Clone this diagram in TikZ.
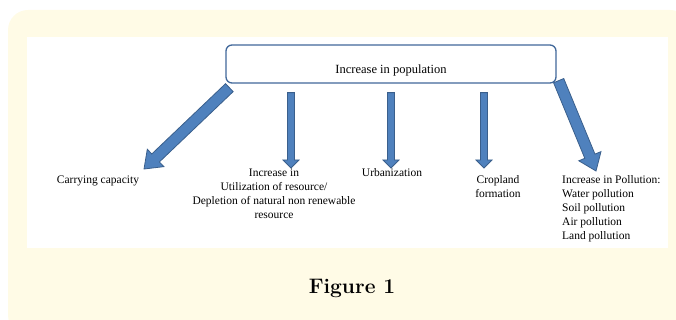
\documentclass[tikz,border=0pt]{standalone}
\usepackage{fontspec}
\usetikzlibrary{calc}
\newfontfamily\diagfont{Liberation Serif}

\definecolor{panel}{HTML}{FFFBE6}
\definecolor{arrowfill}{HTML}{4F81BD}
\definecolor{arrowline}{HTML}{3A5F8C}
\definecolor{boxline}{HTML}{41689A}

\def\shaftw{3.5pt}
\def\headw{8pt}
\def\headl{8pt}
\def\wideshaftw{5.5pt}
\def\wideheadw{12pt}
\def\wideheadl{16pt}

% block arrow: from, to, half shaft width, half head width, head length
\newcommand{\blockarrow}[5]{%
  \coordinate (neck) at ($(#2)!#5!(#1)$);
  \filldraw[block arrow] ($(#1)!#3!90:(#2)$) -- ($(neck)!#3!90:(#2)$)
    -- ($(neck)!#4!90:(#2)$) -- (#2) -- ($(neck)!#4!-90:(#2)$)
    -- ($(neck)!#3!-90:(#2)$) -- ($(#1)!#3!-90:(#2)$) -- cycle;
}

\begin{document}
\begin{tikzpicture}[x=1pt,y=-1pt]
    \tikzstyle{block arrow}=[fill=arrowfill,draw=arrowline,line width=0.8pt,line join=miter]
    \tikzstyle{annot}=[font=\diagfont\fontsize{11.5}{14}\selectfont,inner sep=0pt,align=center]
    \tikzstyle{top box}=[draw=boxline,line width=1.3pt,rounded corners=6pt,fill=white,
        minimum width=330pt,minimum height=38pt]

    \useasboundingbox (0,0) rectangle (676,320);

    % Draw the panel
    \fill[panel,rounded corners=20pt] (8,10) rectangle (690,335);
    \fill[white] (27,37) rectangle (668,248);

    % Draw the top box
    \node[top box] (pop) at (391,64) {};
    \node[annot,font=\diagfont\fontsize{12.5}{14}\selectfont] (pop-text) at ([yshift=-6pt]pop.center) {Increase in population};

    % Draw the effects
    \node[annot,anchor=north] (cc) at (98,176) {Carrying capacity};
    \node[annot,anchor=north] (util) at (274,169) {Increase in\\Utilization of resource/\\Depletion of natural non renewable\\resource};
    \node[annot,anchor=north] (urb) at (392,168) {Urbanization};
    \node[annot,anchor=north] (crop) at (498,175) {Cropland\\formation};
    \node[annot,anchor=north west,align=left] (poll) at (562,175) {Increase in Pollution:\\Water pollution\\Soil pollution\\Air pollution\\Land pollution};

    % Connect the top box with the effects below it
    \foreach \name / \x in {util/291,urb/391,crop/484} {
        \coordinate (\name-tip) at (\x,168);
        \coordinate (\name-top) at ([yshift=-9pt]pop.south -| \name-tip);
        \blockarrow{\name-top}{\name-tip}{\shaftw}{\headw}{\headl}
    }

    % The two slanted arrows
    \coordinate (cc-top) at ([shift={(4pt,-4pt)}]pop.south west);
    \coordinate (cc-tip) at (144,169);
    \blockarrow{cc-top}{cc-tip}{\wideshaftw}{\wideheadw}{\wideheadl}
    \coordinate (poll-top) at ([shift={(2pt,3pt)}]pop.south east);
    \coordinate (poll-tip) at (596,171);
    \blockarrow{poll-top}{poll-tip}{\wideshaftw}{\wideheadw}{\wideheadl}

    % Caption
    \node[font=\fontsize{21}{25}\selectfont\bfseries] (fig) at (352,288) {Figure 1};
\end{tikzpicture}
\end{document}
